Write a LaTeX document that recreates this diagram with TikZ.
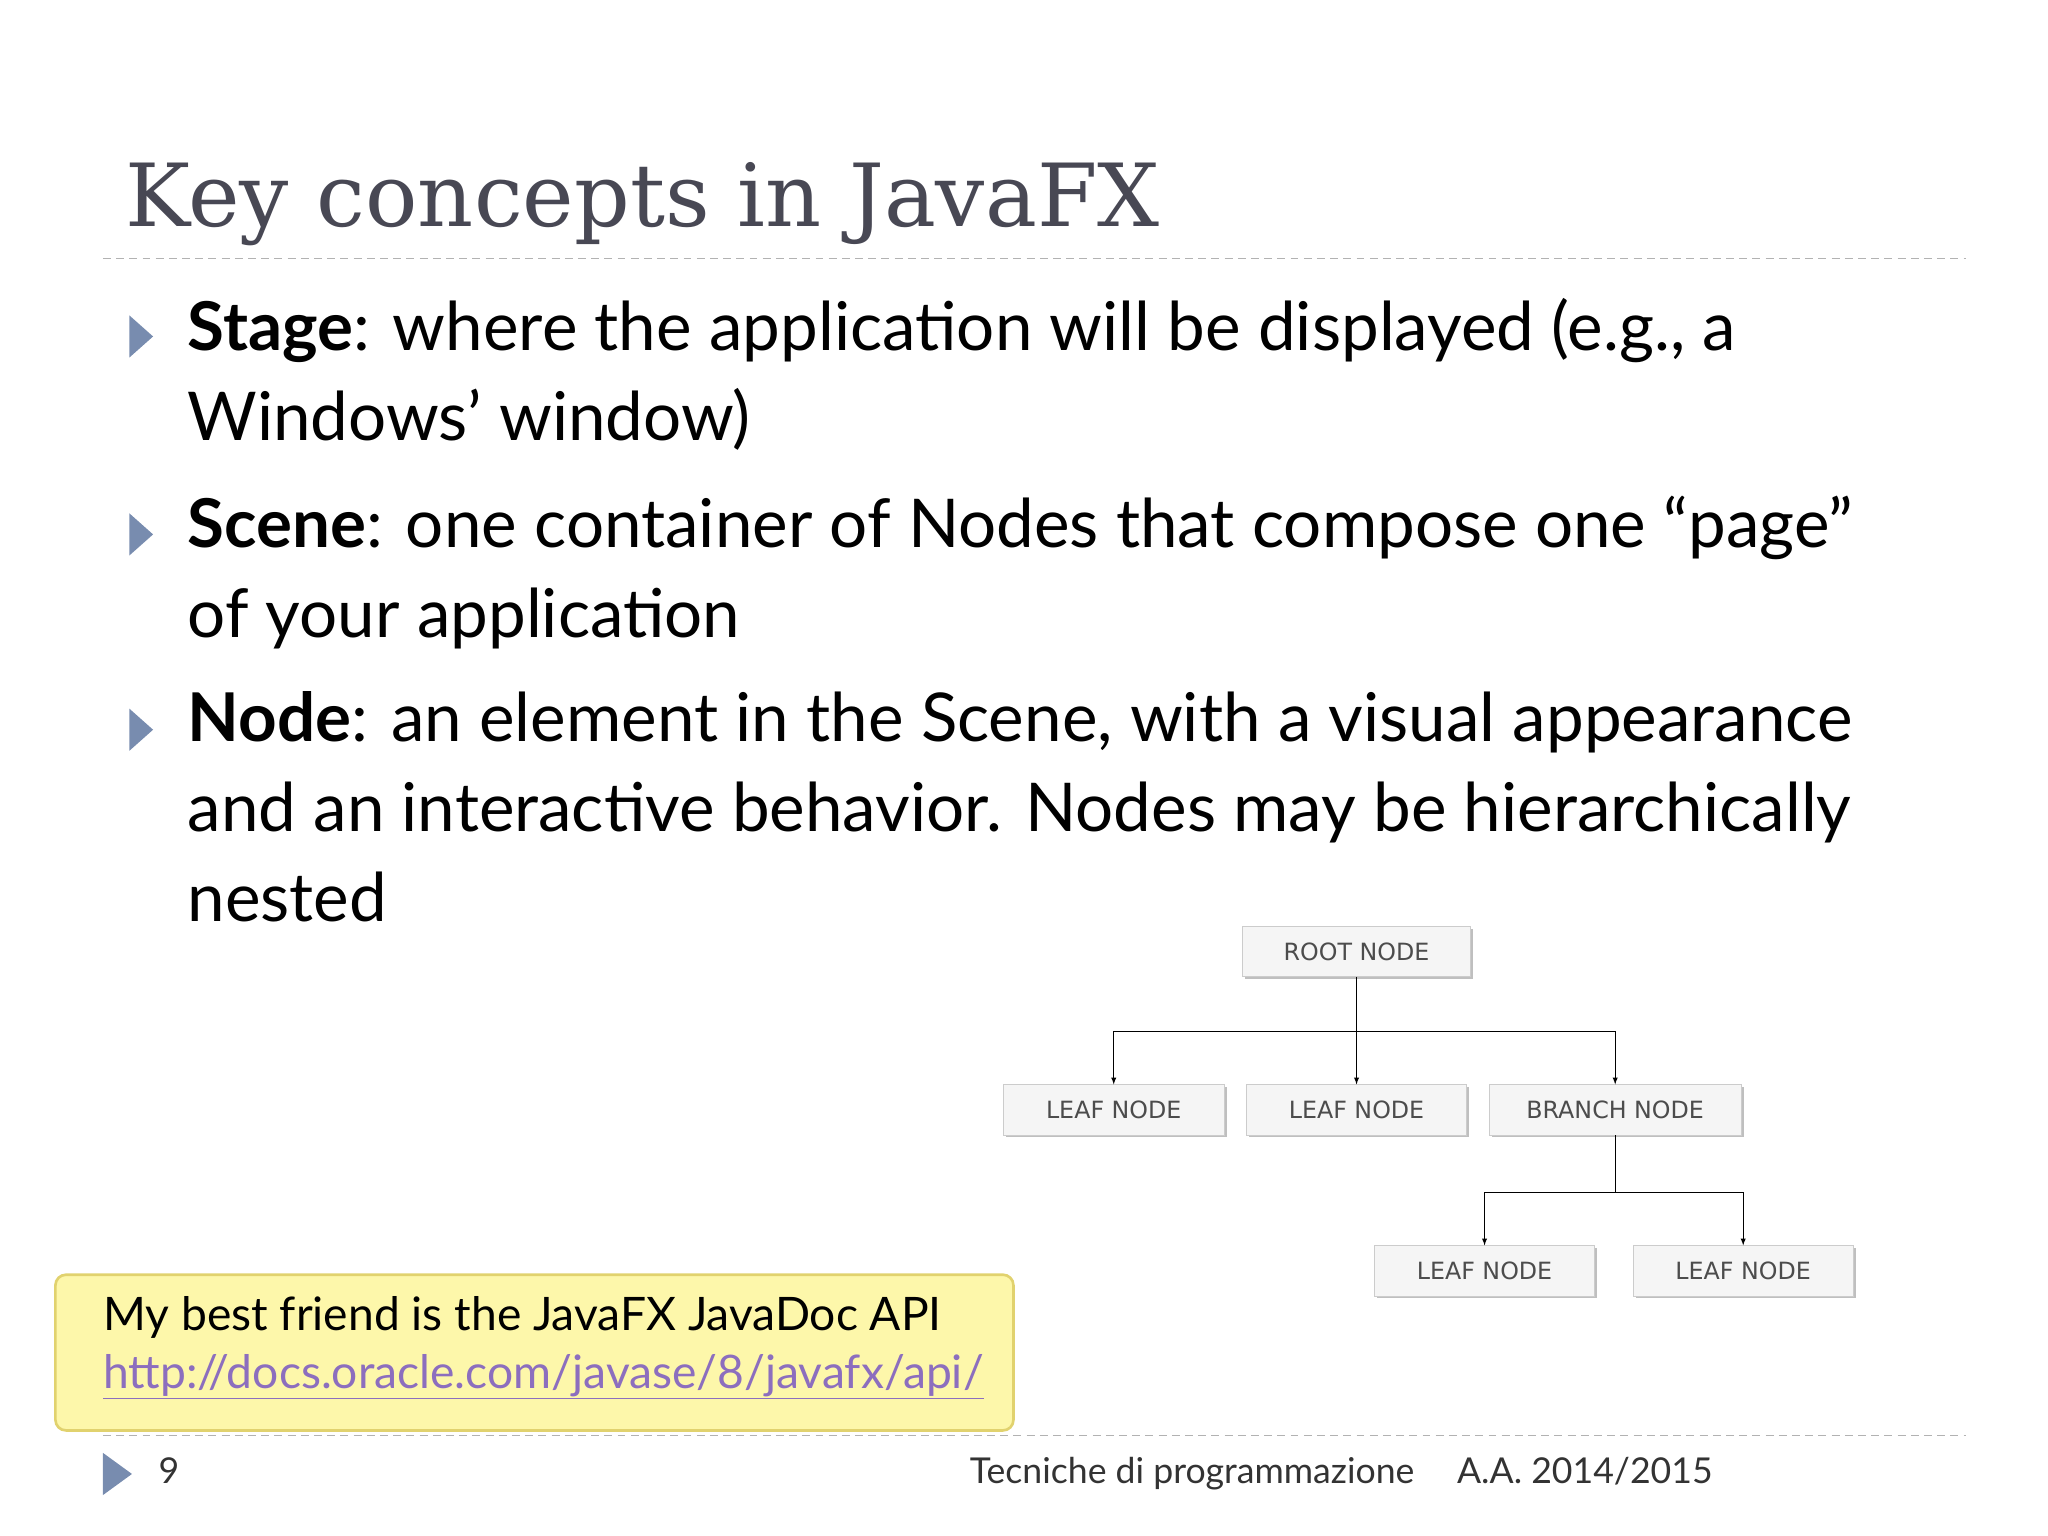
\documentclass[tikz,border=0pt]{standalone}
\usepackage{fontspec}
\setmainfont{Lato}
\newfontfamily\titlefont{DejaVu Serif}
\newfontfamily\boxfont{DejaVu Sans}
\usetikzlibrary{positioning,shadows}
\definecolor{titlegray}{RGB}{72,72,84}
\definecolor{bulletblue}{RGB}{120,140,175}
\definecolor{notefill}{RGB}{253,247,170}
\definecolor{noteline}{RGB}{225,210,110}
\definecolor{linkpurple}{RGB}{140,110,190}
\tikzset{
  treebox/.style={draw=gray!40,fill=gray!8,minimum width=167pt,minimum height=38pt,
    font=\boxfont\fontsize{18}{20}\selectfont,text=black!70,
    drop shadow={shadow xshift=2pt,shadow yshift=-2pt,fill=gray!50,opacity=1}},
  bullet/.style={fill=bulletblue,draw=none},
  treearrow/.style={-latex,line width=0.8pt},
  rule/.style={gray!60,dash pattern=on 6pt off 4pt,line width=1pt},
  bodytext/.style={anchor=north west,align=left,inner sep=0pt,
    font=\fontsize{51}{68}\selectfont}
}
\begin{document}
\begin{tikzpicture}[x=1pt,y=1pt]
\useasboundingbox (0,0) rectangle (1552,1164);

% title
\node[anchor=base west,inner sep=0pt,text=titlegray,font=\titlefont\fontsize{66}{80}\selectfont] (title) at (95,992) {Key concepts in JavaFX};
\draw[rule] (78,968) -- (1490,968);

% bullets
\foreach \y in {909,759,611}
  \fill[bullet] (98,\y+16) -- (116,\y) -- (98,\y-16) -- cycle;
\node[bodytext] (stage) at (142,938) {\textbf{Stage}: where the application will be displayed (e.g., a\\Windows' window)};
\node[bodytext] (scene) at (142,788) {\textbf{Scene}: one container of Nodes that compose one ``page''\\of your application};
\node[bodytext] (nodetxt) at (142,640) {\textbf{Node}: an element in the Scene, with a visual appearance\\and an interactive behavior. Nodes may be hierarchically\\nested};

% tree
\node[treebox,minimum width=173pt] (root) at (1028,443) {ROOT NODE};
\node[treebox] (leafa) at (844,323) {LEAF NODE};
\node[treebox] (leafb) at (1028,323) {LEAF NODE};
\node[treebox,minimum width=191pt] (branch) at (1224,323) {BRANCH NODE};
\node[treebox] (leafc) at (1125,201) {LEAF NODE};
\node[treebox] (leafd) at (1321,201) {LEAF NODE};
\coordinate (busa) at (1028,382);
\coordinate (busb) at (1224,260);
\draw (root.south) -- (busa);
\draw[treearrow] (busa) -| (leafa.north);
\draw[treearrow] (busa) -- (leafb.north);
\draw[treearrow] (busa) -| (branch.north);
\draw (branch.south) -- (busb);
\draw[treearrow] (busb) -| (leafc.north);
\draw[treearrow] (busb) -| (leafd.north);

% note
\draw[noteline,fill=notefill,line width=2pt,rounded corners=8pt] (42,198) rectangle (768,80);
\node[anchor=base west,inner sep=0pt,font=\fontsize{35}{40}\selectfont] (notetext) at (78,156) {My best friend is the JavaFX JavaDoc API};
\node[anchor=base west,inner sep=0pt,text=linkpurple,font=\fontsize{35}{40}\selectfont] (notelink) at (78,112) {\underline{http://docs.oracle.com/javase/8/javafx/api/}};

% footer
\draw[rule] (78,76) -- (1490,76);
\fill[bullet] (78,63) -- (100,47) -- (78,31) -- cycle;
\node[anchor=base west,inner sep=0pt,font=\fontsize{27}{30}\selectfont,text=black!80] (pagenum) at (120,40) {9};
\node[anchor=base east,inner sep=0pt,font=\fontsize{27}{30}\selectfont,text=black!80] (course) at (1072,40) {Tecniche di programmazione};
\node[anchor=base west,inner sep=0pt,font=\fontsize{27}{30}\selectfont,text=black!80] (year) at (1104,40) {A.A. 2014/2015};
\end{tikzpicture}
\end{document}
